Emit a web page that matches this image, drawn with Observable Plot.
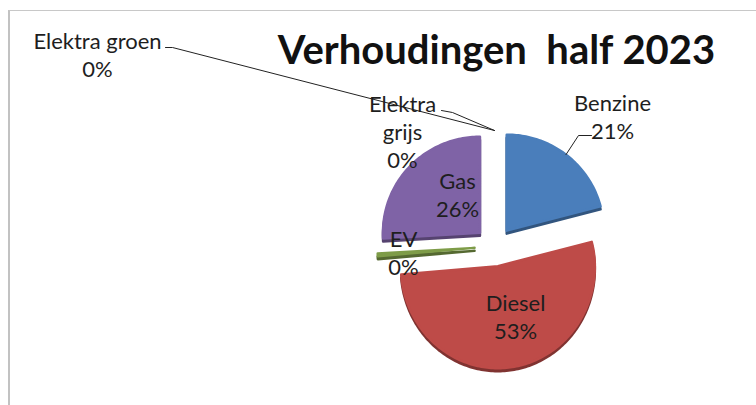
<!DOCTYPE html>
<html><head><meta charset="utf-8">
<script src="https://cdn.jsdelivr.net/npm/d3@7"></script>
<script src="https://cdn.jsdelivr.net/npm/@observablehq/plot@0.6"></script>
<style>
body{margin:0;background:#fff;}
#wrap{position:relative;width:756px;height:405px;overflow:hidden;}
#frame{position:absolute;left:8px;top:10px;right:-10px;bottom:-10px;border-left:2px solid #c2c2c2;border-top:1.5px solid #c8c8c8;pointer-events:none;}
</style></head><body><div id="wrap"><div id="frame"></div></div>
<script>
// ---- data ----
const categories = ["Benzine", "Diesel", "EV", "Gas", "Elektra grijs", "Elektra groen"];
const values = [21, 53, 0.4, 26, 0, 0];
const colors = ["#4A7EBB", "#BE4B48", "#7E9C48", "#7F63A6", "#4BACC6", "#F79646"];
const title = "Verhoudingen  half 2023";

// ---- layout (pixels) ----
const W = 756, H = 405;
const cx = 494, cy = 246, rx = 97, ryTop = 96, ryBottom = 102, explode = 20;
const labelLayout = {
  "Benzine":       {x: 612, y: 110, wrap: false, lead: [[591, 135], [578, 135]]},
  "Diesel":        {x: 515, y: 310, wrap: false},
  "EV":            {x: 403, y: 246, wrap: false},
  "Gas":           {x: 457, y: 188, wrap: false},
  "Elektra grijs": {x: 402, y: 111, wrap: true, lead: [[441, 110], [452, 112]]},
  "Elektra groen": {x: 97,  y: 48,  wrap: false, lead: [[165, 47], [172, 47]]}
};
const lineH = 28;

// ---- geometry from values ----
const total = d3.sum(values);
const arcs = d3.pie().sort(null).startAngle(0).endAngle(2 * Math.PI)(values);
const pt = (a, ox, oy) => {
  const s = Math.sin(a), c = Math.cos(a);
  const ry = c > 0 ? ryTop : ryBottom;
  return [ox + rx * s, oy - ry * c];
};
const slices = arcs.map((arc, i) => {
  const mid = (arc.startAngle + arc.endAngle) / 2;
  const ox = cx + explode * Math.sin(mid), oy = cy - explode * Math.cos(mid);
  const pts = [[ox, oy]];
  const n = Math.max(2, Math.ceil((arc.endAngle - arc.startAngle) / 0.02));
  for (let j = 0; j <= n; j++) {
    const a = arc.startAngle + (arc.endAngle - arc.startAngle) * j / n;
    pts.push(pt(a, ox, oy));
  }
  return {cat: categories[i], color: colors[i], value: values[i], pts, outer: pt(mid, ox, oy), pct: values[i] / total};
});

const fmt = d3.format(".0%");
const textRows = [];
const leaders = [];
slices.forEach((s) => {
  const L = labelLayout[s.cat];
  const lines = (L.wrap ? s.cat.split(" ") : [s.cat]).concat([fmt(s.pct)]);
  lines.forEach((t, k) => textRows.push({t, x: L.x, y: L.y + k * lineH}));
  if (L.lead) leaders.push(L.lead.concat([s.outer]).map(([x, y]) => ({x, y, cat: s.cat})));
});

const drawn = slices.filter(s => s.value > 0);
const marks = [];
// 3D side (darker, shifted)
drawn.forEach(s => {
  const dk = d3.color(s.color).darker(1.1).formatHex();
  marks.push(Plot.line(s.pts, {x: d => d[0], y: d => d[1], curve: "linear-closed",
    fill: dk, stroke: dk, strokeWidth: 2.5, strokeLinejoin: "round", dy: 3}));
});
drawn.forEach(s => {
  marks.push(Plot.line(s.pts, {x: d => d[0], y: d => d[1], curve: "linear-closed",
    fill: s.color, stroke: s.color, strokeWidth: 2.5, strokeLinejoin: "round"}));
});
leaders.forEach(l => marks.push(Plot.line(l, {x: "x", y: "y", stroke: "#222", strokeWidth: 1})));
marks.push(Plot.text(textRows, {x: "x", y: "y", text: "t", lineAnchor: "bottom", textAnchor: "middle",
  fontSize: 22, fill: "#1e1e1e", fontFamily: "Lato"}));
marks.push(Plot.text([title], {x: () => 496, y: () => 63, text: d => d, lineAnchor: "bottom", textAnchor: "middle",
  fontSize: 40, fontWeight: "bold", fill: "#111", fontFamily: "Lato"}));

const chart = Plot.plot({
  width: W, height: H, margin: 0,
  x: {domain: [0, W], range: [0, W], axis: null},
  y: {domain: [0, H], range: [0, H], axis: null},
  style: {background: "transparent", fontFamily: "Lato"},
  marks
});
chart.style.position = "absolute";
chart.style.left = "0"; chart.style.top = "0";
document.getElementById("wrap").prepend(chart);
</script>
</body></html>
